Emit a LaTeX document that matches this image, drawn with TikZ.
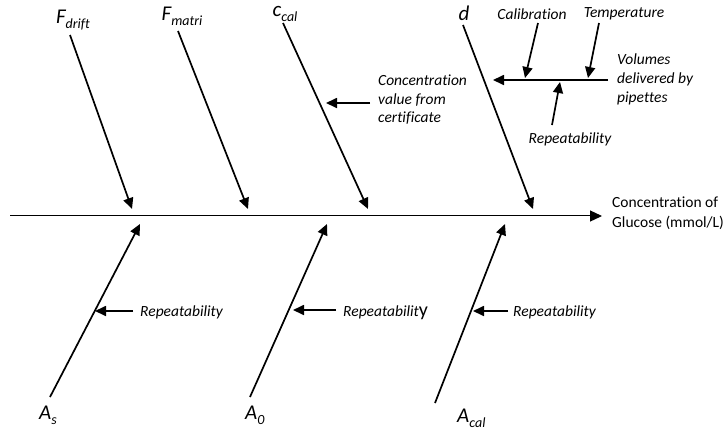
\documentclass[tikz,border=0pt]{standalone}
\usepackage{fontspec}
\setmainfont[Ligatures=NoCommon]{Carlito}
\usetikzlibrary{arrows.meta}
\begin{document}
\begin{tikzpicture}[x=1pt,y=-1pt,
  bone/.style={line width=1.7pt,-{Triangle[length=11pt,width=10pt]}},
  spine/.style={double,double distance=0.5pt,line width=1.2pt,-{Triangle[length=12pt,width=11pt]}},
  lab/.style={font=\fontsize{15.5}{19}\selectfont\itshape,inner sep=0pt},
  big/.style={font=\fontsize{21}{22}\selectfont\itshape,inner sep=0pt},
  plain/.style={font=\fontsize{15.5}{20}\selectfont,inner sep=0pt,align=left,anchor=west}]
\useasboundingbox (0,0) rectangle (726,432);
\newcommand{\subsc}[1]{\raisebox{-0.25em}{\fontsize{14}{14}\selectfont #1}}
% spine
\coordinate (s0) at (10,216);
\coordinate (s1) at (602,216);
\draw[spine] (s0) -- (s1);
\node[plain] (out) at (612,213) {Concentration of\\Glucose (mmol/L)};
% top bones
\node[big] (fd) at (73,20) {F\subsc{drift}};
\node[big] (fm) at (182,16) {F\subsc{matri}};
\node[big] (cc) at (285,14) {c\subsc{cal}};
\node[big] (dd) at (464,13) {d};
\coordinate (fd0) at (70,35);  \coordinate (fd1) at (132,209);
\coordinate (fm0) at (178,31); \coordinate (fm1) at (248,209);
\coordinate (cc0) at (283,23); \coordinate (cc1) at (368,209);
\coordinate (dd0) at (463,25); \coordinate (dd1) at (533,209);
\draw[bone] (fd0) -- (fd1);
\draw[bone] (fm0) -- (fm1);
\draw[bone] (cc0) -- (cc1);
\draw[bone] (dd0) -- (dd1);
% certificate
\coordinate (ce0) at (370,103); \coordinate (ce1) at (326,103);
\draw[bone] (ce0) -- (ce1);
\node[lab,align=left,anchor=west,font=\fontsize{15.5}{18.5}\selectfont\itshape] (cert) at (378,100) {Concentration\\value from\\certificate};
% pipette sub-bone
\coordinate (p0) at (608,80); \coordinate (p1) at (493,80);
\draw[bone] (p0) -- (p1);
\node[lab,align=left,anchor=west] (vol) at (617,79) {Volumes\\delivered by\\pipettes};
\node[lab] (cal) at (532,14) {Calibration};
\node[lab] (tem) at (624,14) {Temperature};
\node[lab] (rp) at (570,139) {Repeatability};
\coordinate (ca0) at (538,23); \coordinate (ca1) at (525,78);
\coordinate (te0) at (599,23); \coordinate (te1) at (588,78);
\coordinate (rp0) at (552,125); \coordinate (rp1) at (560,82);
\draw[bone] (ca0) -- (ca1);
\draw[bone] (te0) -- (te1);
\draw[bone] (rp0) -- (rp1);
% bottom bones
\coordinate (as0) at (50,397);  \coordinate (as1) at (140,224);
\coordinate (a00) at (250,397); \coordinate (a01) at (327,224);
\coordinate (ac0) at (435,403); \coordinate (ac1) at (505,224);
\draw[bone] (as0) -- (as1);
\draw[bone] (a00) -- (a01);
\draw[bone] (ac0) -- (ac1);
\node[big,anchor=base west] (as) at (39,419) {A\subsc{s}};
\node[big,anchor=base west] (a0) at (245,419) {A\subsc{0}};
\node[big,anchor=base west] (ac) at (457,422) {A\subsc{cal}};
% repeatability arrows
\coordinate (r10) at (133,311); \coordinate (r11) at (95,311);
\coordinate (r20) at (336,310); \coordinate (r21) at (293,310);
\coordinate (r30) at (508,311); \coordinate (r31) at (473,311);
\draw[bone] (r10) -- (r11);
\draw[bone] (r20) -- (r21);
\draw[bone] (r30) -- (r31);
\node[lab,anchor=west] (rep1) at (140,312) {Repeatability};
\node[lab,anchor=west] (rep2) at (343,313) {Repeatabilit{\upshape\fontsize{20}{20}\selectfont y}};
\node[lab,anchor=west] (rep3) at (513,312) {Repeatability};
\end{tikzpicture}
\end{document}
